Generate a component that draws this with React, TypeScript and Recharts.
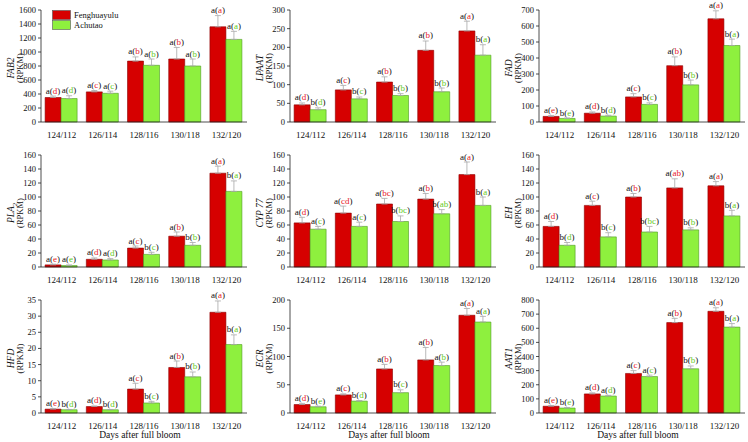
import { Bar, BarChart, ErrorBar, LabelList, Legend, XAxis, YAxis } from 'recharts';

const CATEGORIES = ['124/112', '126/114', '128/116', '130/118', '132/120'];

// FAB2
const FAB2_FENG = [350, 430, 870, 900, 1360];
const FAB2_ACHU = [335, 410, 810, 800, 1180];
const FAB2_FENG_ERR = [20, 20, 60, 165, 160];
const FAB2_ACHU_ERR = [40, 30, 90, 100, 115];
const FAB2_FENG_SIG = ['a(d)', 'a(c)', 'a(b)', 'a(b)', 'a(a)'];
const FAB2_ACHU_SIG = ['a(d)', 'a(c)', 'a(b)', 'a(b)', 'a(a)'];

// LPAAT
const LPAAT_FENG = [46, 86, 107, 192, 244];
const LPAAT_ACHU = [33, 62, 71, 81, 179];
const LPAAT_FENG_ERR = [5, 12, 14, 25, 26];
const LPAAT_ACHU_ERR = [5, 5, 5, 10, 28];
const LPAAT_FENG_SIG = ['a(d)', 'a(c)', 'a(b)', 'a(b)', 'a(a)'];
const LPAAT_ACHU_SIG = ['b(d)', 'b(c)', 'b(b)', 'b(b)', 'b(a)'];

// FAD
const FAD_FENG = [35, 55, 157, 352, 645];
const FAD_ACHU = [22, 37, 110, 232, 478];
const FAD_FENG_ERR = [5, 8, 20, 55, 50];
const FAD_ACHU_ERR = [3, 5, 10, 30, 40];
const FAD_FENG_SIG = ['a(e)', 'a(d)', 'a(c)', 'a(b)', 'a(a)'];
const FAD_ACHU_SIG = ['b(e)', 'b(d)', 'b(c)', 'b(b)', 'b(a)'];

// PLA2
const PLA2_FENG = [3, 11, 27, 44, 134];
const PLA2_ACHU = [2, 10, 18, 31, 108];
const PLA2_FENG_ERR = [1, 2, 3, 6, 10];
const PLA2_ACHU_ERR = [1, 2, 3, 4, 15];
const PLA2_FENG_SIG = ['a(e)', 'a(d)', 'a(c)', 'a(b)', 'a(a)'];
const PLA2_ACHU_SIG = ['a(e)', 'a(d)', 'b(c)', 'b(b)', 'b(a)'];

// CYP 77
const CYP_FENG = [63, 77, 90, 97, 132];
const CYP_ACHU = [54, 58, 65, 76, 88];
const CYP_FENG_ERR = [8, 10, 8, 8, 18];
const CYP_ACHU_ERR = [4, 6, 8, 6, 12];
const CYP_FENG_SIG = ['a(d)', 'a(cd)', 'a(bc)', 'a(b)', 'a(a)'];
const CYP_ACHU_SIG = ['a(c)', 'a(c)', 'b(bc)', 'b(ab)', 'b(a)'];

// EH
const EH_FENG = [58, 88, 100, 113, 116];
const EH_ACHU = [31, 43, 50, 53, 73];
const EH_FENG_ERR = [7, 6, 5, 13, 6];
const EH_ACHU_ERR = [4, 6, 8, 3, 8];
const EH_FENG_SIG = ['a(d)', 'a(c)', 'a(b)', 'a(ab)', 'a(a)'];
const EH_ACHU_SIG = ['b(d)', 'b(c)', 'b(bc)', 'b(b)', 'b(a)'];

// HFD
const HFD_FENG = [1.2, 2, 7.4, 14.1, 31.2];
const HFD_ACHU = [1, 1, 3.1, 11.2, 21.2];
const HFD_FENG_ERR = [0.2, 0.2, 1.8, 2, 3.5];
const HFD_ACHU_ERR = [0.1, 0.1, 0.5, 1.5, 3];
const HFD_FENG_SIG = ['a(e)', 'a(d)', 'a(c)', 'a(b)', 'a(a)'];
const HFD_ACHU_SIG = ['b(d)', 'b(d)', 'b(c)', 'b(b)', 'b(a)'];

// ECR
const ECR_FENG = [15, 32, 78, 94, 173];
const ECR_ACHU = [11, 21, 36, 84, 161];
const ECR_FENG_ERR = [2, 2, 8, 22, 12];
const ECR_ACHU_ERR = [1, 1, 5, 6, 10];
const ECR_FENG_SIG = ['a(d)', 'a(c)', 'a(b)', 'a(b)', 'a(a)'];
const ECR_ACHU_SIG = ['b(e)', 'b(d)', 'b(c)', 'a(b)', 'a(a)'];

// AAT1
const AAT_FENG = [48, 135, 280, 640, 720];
const AAT_ACHU = [35, 120, 258, 313, 608];
const AAT_FENG_ERR = [5, 8, 20, 30, 25];
const AAT_ACHU_ERR = [3, 5, 10, 20, 25];
const AAT_FENG_SIG = ['a(e)', 'a(d)', 'a(c)', 'a(b)', 'a(a)'];
const AAT_ACHU_SIG = ['b(e)', 'a(d)', 'a(c)', 'b(b)', 'b(a)'];

const RED = '#d60000';
const RED_EDGE = '#8c0000';
const GREEN = '#8ef03e';
const GREEN_EDGE = '#4e9a22';
const RED_TXT = '#e8202a';
const GREEN_TXT = '#66cc22';
const FONT = 'Liberation Serif, Times New Roman, Times, serif';

interface Panel {
  gene: string;
  sub?: string;
  ticks: number[];
  feng: number[];
  achu: number[];
  fengErr: number[];
  achuErr: number[];
  fengSig: string[];
  achuSig: string[];
}

const range = (max: number, step: number) => {
  const out: number[] = [];
  for (let v = 0; v <= max + 1e-9; v += step) out.push(v);
  return out;
};

const PANELS: Panel[] = [
  { gene: 'FAB2', ticks: range(1600, 200), feng: FAB2_FENG, achu: FAB2_ACHU, fengErr: FAB2_FENG_ERR, achuErr: FAB2_ACHU_ERR, fengSig: FAB2_FENG_SIG, achuSig: FAB2_ACHU_SIG },
  { gene: 'LPAAT', ticks: range(300, 50), feng: LPAAT_FENG, achu: LPAAT_ACHU, fengErr: LPAAT_FENG_ERR, achuErr: LPAAT_ACHU_ERR, fengSig: LPAAT_FENG_SIG, achuSig: LPAAT_ACHU_SIG },
  { gene: 'FAD', ticks: range(700, 100), feng: FAD_FENG, achu: FAD_ACHU, fengErr: FAD_FENG_ERR, achuErr: FAD_ACHU_ERR, fengSig: FAD_FENG_SIG, achuSig: FAD_ACHU_SIG },
  { gene: 'PLA', sub: '2', ticks: range(160, 20), feng: PLA2_FENG, achu: PLA2_ACHU, fengErr: PLA2_FENG_ERR, achuErr: PLA2_ACHU_ERR, fengSig: PLA2_FENG_SIG, achuSig: PLA2_ACHU_SIG },
  { gene: 'CYP 77', ticks: range(160, 20), feng: CYP_FENG, achu: CYP_ACHU, fengErr: CYP_FENG_ERR, achuErr: CYP_ACHU_ERR, fengSig: CYP_FENG_SIG, achuSig: CYP_ACHU_SIG },
  { gene: 'EH', ticks: range(160, 20), feng: EH_FENG, achu: EH_ACHU, fengErr: EH_FENG_ERR, achuErr: EH_ACHU_ERR, fengSig: EH_FENG_SIG, achuSig: EH_ACHU_SIG },
  { gene: 'HFD', ticks: range(35, 5), feng: HFD_FENG, achu: HFD_ACHU, fengErr: HFD_FENG_ERR, achuErr: HFD_ACHU_ERR, fengSig: HFD_FENG_SIG, achuSig: HFD_ACHU_SIG },
  { gene: 'ECR', ticks: range(200, 50), feng: ECR_FENG, achu: ECR_ACHU, fengErr: ECR_FENG_ERR, achuErr: ECR_ACHU_ERR, fengSig: ECR_FENG_SIG, achuSig: ECR_ACHU_SIG },
  { gene: 'AAT1', ticks: range(800, 100), feng: AAT_FENG, achu: AAT_ACHU, fengErr: AAT_FENG_ERR, achuErr: AAT_ACHU_ERR, fengSig: AAT_FENG_SIG, achuSig: AAT_ACHU_SIG },
];

const sigLabel = (sig: string[], err: number[], color: string) => (props: any) => {
  const vb = props.viewBox || {};
  const x = props.x ?? vb.x;
  const y = props.y ?? vb.y;
  const width = props.width ?? vb.width;
  const height = props.height ?? vb.height;
  const value = Number(props.value);
  const i = props.index;
  if (i == null || !value) return null;
  const errPx = (height / value) * err[i];
  const m = sig[i].match(/^(\w)\((\w+)\)$/);
  if (!m) return null;
  return (
    <text x={x + width / 2} y={y - errPx - 2.5} textAnchor="middle" fontSize={9} style={{ fontFamily: FONT }}>
      <tspan fill="#111">{m[1]}(</tspan>
      <tspan fill={color}>{m[2]}</tspan>
      <tspan fill="#111">)</tspan>
    </text>
  );
};

function LegendBox() {
  const items = [
    { name: 'Fenghuayulu', fill: RED },
    { name: 'Achutao', fill: GREEN },
  ];
  return (
    <svg width={80} height={22} style={{ fontFamily: FONT }}>
      {items.map((it, i) => (
        <g key={it.name}>
          <rect x={0.5} y={0.5 + i * 10} width={18} height={9} fill={it.fill} stroke="#555" strokeWidth={0.6} />
          <text x={22} y={8 + i * 10} fontSize={8.5} fill="#111">{it.name}</text>
        </g>
      ))}
    </svg>
  );
}

function GenePanel({ p, idx }: { p: Panel; idx: number }) {
  const col = idx % 3;
  const row = Math.floor(idx / 3);
  const bottom = row === 2;
  const height = bottom ? 152 : 145;
  const data = CATEGORIES.map((day, i) => ({
    day,
    feng: p.feng[i],
    achu: p.achu[i],
    fengErr: [0, p.fengErr[i]],
    achuErr: [0, p.achuErr[i]],
  }));
  const max = p.ticks[p.ticks.length - 1];
  return (
    <div style={{ position: 'absolute', left: col * 249, top: row * 145 }}>
      <BarChart
        width={250}
        height={height}
        data={data}
        margin={{ top: 10, right: 3, left: 0, bottom: 0 }}
        barCategoryGap="10%"
        barGap={0}
        style={{ fontFamily: FONT }}
      >
        <XAxis
          dataKey="day"
          height={bottom ? 29 : 23}
          tickLine={false}
          tickMargin={4}
          axisLine={{ stroke: '#222', strokeWidth: 0.8 }}
          tick={{ fontSize: 9, fill: '#111', style: { fontFamily: FONT } }}
          interval={0}
          label={
            bottom
              ? {
                  content: (lp: any) => {
                    const vb = lp.viewBox;
                    return (
                      <text
                        x={vb.x + vb.width / 2 - 4}
                        y={vb.y + 25}
                        textAnchor="middle"
                        fontSize={9.5}
                        fill="#111"
                        style={{ fontFamily: FONT }}
                      >
                        Days after full bloom
                      </text>
                    );
                  },
                }
              : undefined
          }
        />
        <YAxis
          width={41}
          domain={[0, max]}
          ticks={p.ticks}
          interval={0}
          tickSize={3}
          tickMargin={2}
          axisLine={{ stroke: '#222', strokeWidth: 0.8 }}
          tickLine={{ stroke: '#222', strokeWidth: 0.8 }}
          tick={{ fontSize: 8.5, fill: '#111', style: { fontFamily: FONT } }}
          label={{
            content: (lp: any) => {
              const vb = lp.viewBox;
              const cy = vb.y + vb.height / 2 + 2;
              return (
                <g fill="#111" style={{ fontFamily: FONT }}>
                  <text transform={`translate(14, ${cy}) rotate(-90)`} textAnchor="middle" fontSize={9.5} fontStyle="italic">
                    <tspan>{p.gene}</tspan>
                    {p.sub ? <tspan dy={2.5} fontSize={6.5}>{p.sub}</tspan> : null}
                  </text>
                  <text transform={`translate(23, ${cy}) rotate(-90)`} textAnchor="middle" fontSize={8.5}>
                    (RPKM)
                  </text>
                </g>
              );
            },
          }}
        />
        {idx === 0 && (
          <Legend
            layout="vertical"
            align="center"
            verticalAlign="middle"
            wrapperStyle={{ position: 'absolute', left: 52, top: 10, width: 90, height: 22 }}
            content={() => <LegendBox />}
          />
        )}
        <Bar dataKey="feng" name="Fenghuayulu" fill={RED} stroke={RED_EDGE} strokeWidth={0.6} isAnimationActive={false}>
          <ErrorBar dataKey="fengErr" width={3} stroke="#a8a8a8" strokeWidth={0.8} direction="y" />
          <LabelList dataKey="feng" content={sigLabel(p.fengSig, p.fengErr, RED_TXT)} />
        </Bar>
        <Bar dataKey="achu" name="Achutao" fill={GREEN} stroke={GREEN_EDGE} strokeWidth={0.6} isAnimationActive={false}>
          <ErrorBar dataKey="achuErr" width={3} stroke="#a8a8a8" strokeWidth={0.8} direction="y" />
          <LabelList dataKey="achu" content={sigLabel(p.achuSig, p.achuErr, GREEN_TXT)} />
        </Bar>
      </BarChart>
    </div>
  );
}

export default function App() {
  return (
    <div
      style={{
        position: 'absolute',
        left: 0,
        top: 0,
        width: 748,
        height: 442,
        background: '#fff',
        overflow: 'hidden',
        fontFamily: FONT,
      }}
    >
      {PANELS.map((p, i) => (
        <GenePanel key={p.gene} p={p} idx={i} />
      ))}
    </div>
  );
}
